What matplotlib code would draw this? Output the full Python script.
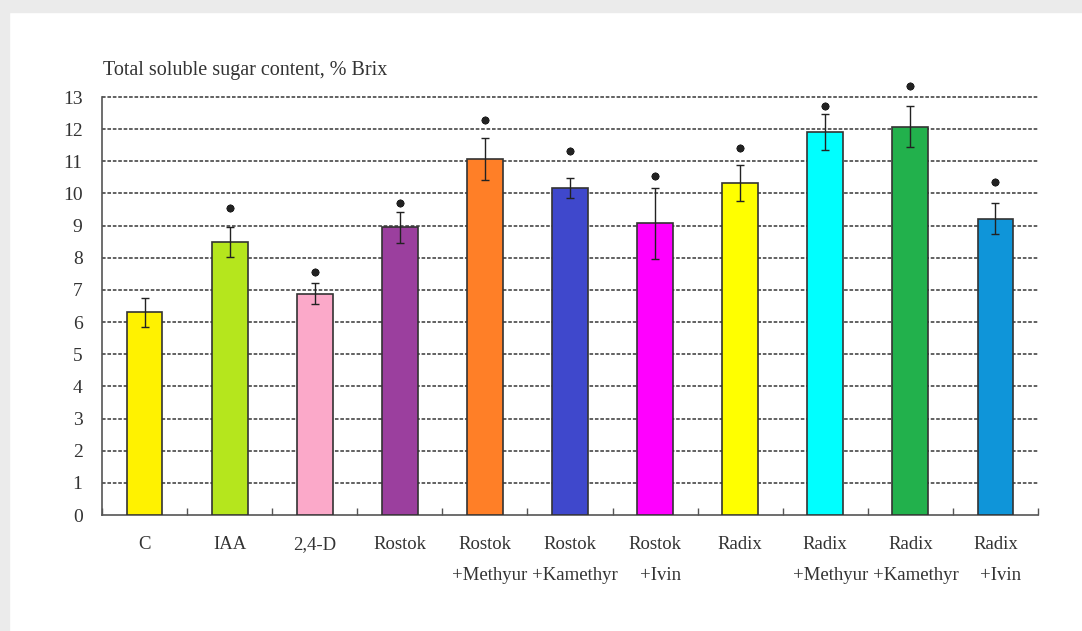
import matplotlib.pyplot as plt
from matplotlib.patches import Rectangle

# data
categories = ["C", "IAA", "2,4-D", "Rostok", "Rostok\n+Methyur", "Rostok\n+Kamethyr",
              "Rostok\n+Ivin", "Radix", "Radix\n+Methyur", "Radix\n+Kamethyr", "Radix\n+Ivin"]
values = [6.3, 8.5, 6.88, 8.95, 11.07, 10.17, 9.07, 10.32, 11.9, 12.08, 9.22]
errors = [0.46, 0.47, 0.33, 0.48, 0.66, 0.32, 1.1, 0.56, 0.56, 0.63, 0.48]
star_y = [None, 9.55, 7.55, 9.7, 12.29, 11.33, 10.55, 11.42, 12.72, 13.34, 10.37]
colors = ["#fff200", "#b5e61d", "#fba9c9", "#9b3f9e", "#ff7f27", "#3f48cc",
          "#ff00ff", "#ffff00", "#00ffff", "#22b14c", "#0f95d9"]

plt.rcParams['font.family'] = ['Liberation Serif', 'DejaVu Serif']

fig = plt.figure(figsize=(10.82, 6.31), dpi=100, facecolor='white')
# grey frame strips (top and left) of the screenshot
fig.patches.append(Rectangle((0, 1 - 12 / 631), 1, 12 / 631, transform=fig.transFigure,
                             color='#ebebeb', zorder=0))
fig.patches.append(Rectangle((0, 0), 9 / 1082, 1, transform=fig.transFigure,
                             color='#ebebeb', zorder=0))

ax = fig.add_axes([102 / 1082, 116 / 631, 936 / 1082, 418 / 631])
x = list(range(len(categories)))

ax.bar(x, values, width=0.42, color=colors, edgecolor='#333333', linewidth=1.2, zorder=3)
ax.errorbar(x, values, yerr=errors, fmt='none', ecolor='#222222', elinewidth=1.0,
            capsize=3, capthick=1.0, zorder=4)

# significance marks
for i, sy in enumerate(star_y):
    if sy is not None:
        ax.plot(i, sy, marker=(8, 2, 0), ms=5.5, mew=1.5, color='#222222', zorder=5,
                clip_on=False)

ax.set_xlim(-0.5, len(categories) - 0.5)
ax.set_ylim(0, 13)
ax.set_yticks(range(0, 14))
ax.tick_params(axis='y', length=0, pad=14, labelsize=14, labelcolor='#333333')

# ticks between categories on the x axis
ax.set_xticks([i + 0.5 for i in range(-1, len(categories))])
ax.set_xticklabels([])
ax.tick_params(axis='x', direction='in', length=5, width=1, color='#555555')

# category labels, one text per line so every line sits on the same baseline
px = 418 / 13  # pixels per unit
line_y = [-(549 - 515) / px, -(580 - 515) / px]
for i, lab in enumerate(categories):
    for k, part in enumerate(lab.split("\n")):
        ax.text(i + 0.06 * k, line_y[k], part, ha='center', va='baseline', fontsize=13.5,
                color='#333333', clip_on=False)

for gy in range(1, 14):
    ax.axhline(gy, color='#555555', lw=1.3, ls=(0, (2, 1)), zorder=1, clip_on=False)

for side in ['top', 'right']:
    ax.spines[side].set_visible(False)
for side in ['left', 'bottom']:
    ax.spines[side].set_color('#555555')
    ax.spines[side].set_linewidth(1.2)

fig.text(103 / 1082, 1 - 70 / 631, "Total soluble sugar content, % Brix", fontsize=14.5,
         color='#333333', va='center', ha='left')

fig.savefig("out.png", dpi=100, facecolor=fig.get_facecolor())
